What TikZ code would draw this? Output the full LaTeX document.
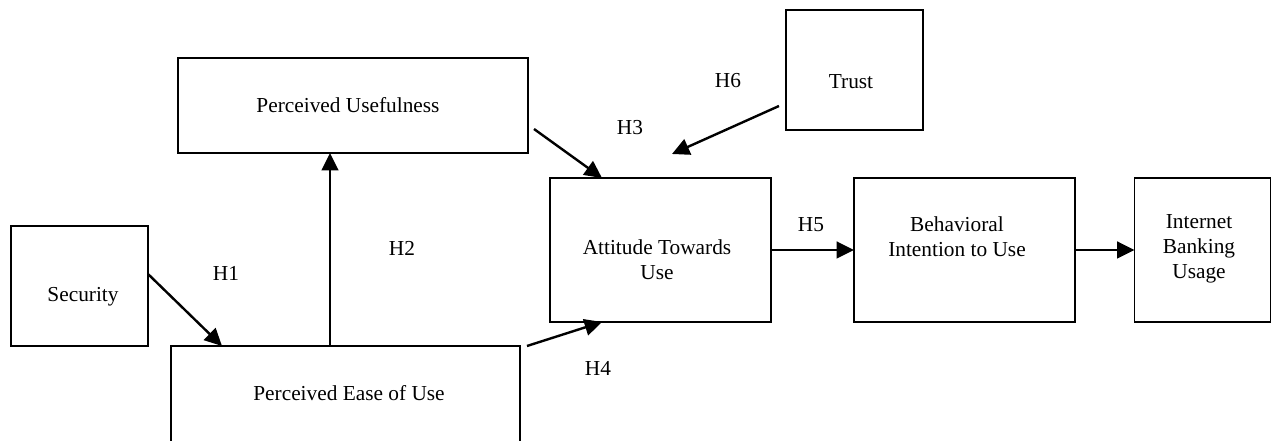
\documentclass[tikz,border=0pt]{standalone}
\usepackage{fontspec}
\setmainfont{Liberation Serif}
\usetikzlibrary{arrows.meta,calc}
\begin{document}
\begin{tikzpicture}[x=0.75pt,y=-0.75pt,
  box/.style={draw, line width=1.4pt, inner sep=0pt, outer sep=0pt, rectangle},
  txt/.style={font=\fontsize{16}{18.75}\selectfont, align=center, inner sep=0pt},
  lbl/.style={font=\fontsize{16}{18.75}\selectfont, inner sep=0pt},
  arr/.style={line width=1.8pt, -{Triangle[length=13pt,width=12.5pt]}}]
\useasboundingbox (0,0) rectangle (1272,441);
\clip (0,0) rectangle (1272,441);
% boxes
\node[box, minimum width=262.5pt, minimum height=71.25pt] (pu) at (353,105.5) {};
\node[box, minimum width=102.75pt, minimum height=90pt] (sec) at (79.5,286) {};
\node[box, minimum width=261.75pt, minimum height=100.5pt] (peou) at (345.5,413) {};
\node[box, minimum width=165.75pt, minimum height=108pt] (atu) at (660.5,250) {};
\node[box, minimum width=102.75pt, minimum height=90pt] (trust) at (854.5,70) {};
\node[box, minimum width=165.75pt, minimum height=108pt] (bi) at (964.5,250) {};
\node[box, minimum width=102pt, minimum height=108pt] (ibu) at (1202.5,250) {};
% texts
\node[txt] (tpu) at (348,105) {Perceived Usefulness};
\node[txt] (tsec) at (83,297) {Security};
\node[txt] (tpeou) at (349,393) {Perceived Ease of Use};
\node[txt] (tatu) at (657,260) {Attitude Towards\\Use};
\node[txt] (ttrust) at (851,82) {Trust};
\node[txt] (tbi) at (957,237) {Behavioral\\Intention to Use};
\node[txt] (tibu) at (1199,249) {Internet\\Banking\\Usage};
% labels
\node[lbl] (h1) at (226,273) {H1};
\node[lbl] (h2) at (402,248) {H2};
\node[lbl] (h3) at (630,128) {H3};
\node[lbl] (h4) at (598,368) {H4};
\node[lbl] (h5) at (811,225) {H5};
\node[lbl] (h6) at (728,81) {H6};
% connectors
\coordinate (tend) at (672,154);
\draw[arr] ($(sec.east)+(0,-12)$) -- ($(peou.north west)+(51,0)$);
\draw[arr] ($(peou.north west)+(159,0)$) -- ($(pu.south west)+(152,0)$);
\draw[arr] ($(pu.south east)+(6,-24)$) -- ($(atu.north west)+(52,0)$);
\draw[arr] ($(trust.west)+(-7,36)$) -- (tend);
\draw[arr] ($(peou.north east)+(7,0)$) -- ($(atu.south west)+(52,0)$);
\draw[arr] (atu.east) -- (bi.west);
\draw[arr] (bi.east) -- (ibu.west);
\end{tikzpicture}
\end{document}
